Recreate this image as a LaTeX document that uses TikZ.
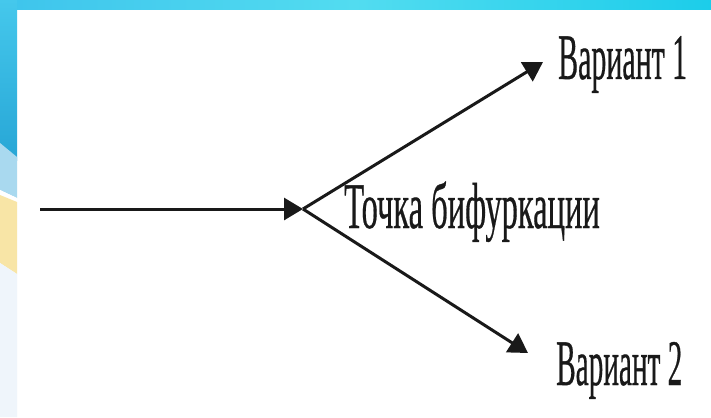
\documentclass[tikz,border=0pt]{standalone}
\usepackage{fontspec}
\setmainfont{Liberation Serif}[FakeBold=0.6]
\usetikzlibrary{arrows.meta}
\definecolor{bandL}{HTML}{3EC4EC}
\definecolor{bandM}{HTML}{52DCF0}
\definecolor{bandR}{HTML}{1CCDEA}
\definecolor{sideTop}{HTML}{45C8EC}
\definecolor{sideBot}{HTML}{27A6D6}
\definecolor{sideLight}{HTML}{A9D9EF}
\definecolor{sideYellow}{HTML}{F8E5A6}
\definecolor{sidePale}{HTML}{EFF5FB}
\begin{document}
\begin{tikzpicture}[x=1pt,y=-1pt,
  lbl/.style={inner sep=0pt, anchor=base west, font=\fontsize{65}{70}\selectfont, text=black!90},
  arr/.style={line width=3pt, draw=black!90, -{Triangle[length=19pt,width=22pt]}}]
\useasboundingbox (0,0) rectangle (711,417);
\fill[white] (0,0) rectangle (711,417);
% top band
\shade[left color=bandL, right color=bandR, middle color=bandM] (0,0) rectangle (711,10);
% left band
\begin{scope}
\clip (0,0) rectangle (17,417);
\shade[top color=sideTop, bottom color=sideBot] (0,0) rectangle (17,160);
\fill[sideLight] (0,143) -- (17,157) -- (17,198) -- (0,190) -- cycle;
\fill[white] (0,190) -- (17,198) -- (17,202) -- (0,195) -- cycle;
\fill[sideYellow] (0,195) -- (17,202) -- (17,274) -- (0,263) -- cycle;
\fill[sidePale] (0,263) -- (17,274) -- (17,417) -- (0,417) -- cycle;
\end{scope}
% diagram
\coordinate (start) at (40,209);
\coordinate (fork) at (303,209);
\coordinate (v1tip) at (543,62);
\coordinate (v2tip) at (528,353);
\node[lbl] (t1) at (558,79) {\scalebox{0.46}[1]{Вариант 1}};
\node[lbl] (tf) at (344,228) {\scalebox{0.5}[1]{Точка бифуркации}};
\node[lbl] (t2) at (556,385) {\scalebox{0.45}[1]{Вариант 2}};
\draw[arr] (start) -- (fork);
\draw[arr] (fork) -- (v1tip);
\draw[arr] (fork) -- (v2tip);
\end{tikzpicture}
\end{document}
